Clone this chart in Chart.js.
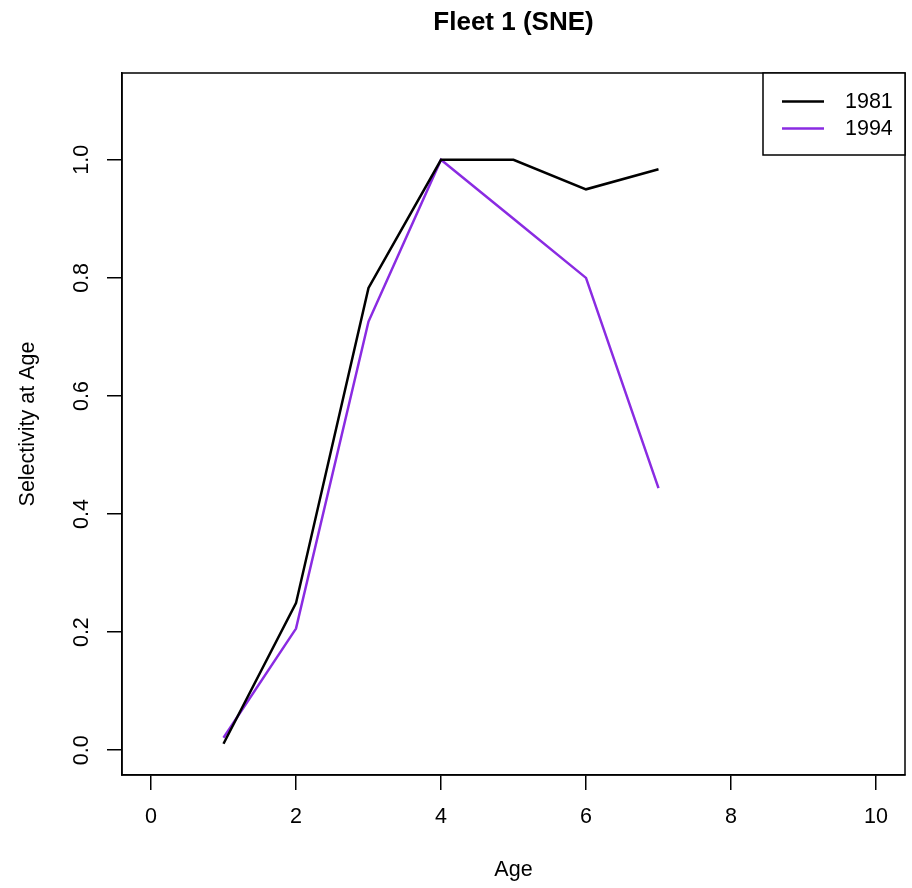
<!DOCTYPE html>
<html>
<head>
<meta charset="utf-8">
<script src="https://cdn.jsdelivr.net/npm/chart.js@4"></script>
<style>
  body { margin: 0; background: #fff; }
  canvas { display: block; }
</style>
</head>
<body>
<canvas id="myChart" width="912" height="888"></canvas>
<script>
const ages = [1, 2, 3, 4, 5, 6, 7];
const sel1981 = [0.011, 0.249, 0.783, 1.0, 1.0, 0.95, 0.984];
const sel1994 = [0.021, 0.206, 0.726, 1.0, 0.9, 0.8, 0.444];
const xTicks = [0, 2, 4, 6, 8, 10];
const yTicks = [0, 0.2, 0.4, 0.6, 0.8, 1.0];
const seriesNames = ["1981", "1994"];
const seriesColors = ["#000000", "#8a2be2"];

const fuente = "'Liberation Sans', Arial, sans-serif";

const toPoints = (vals) => ages.map((a, i) => ({ x: a, y: vals[i] }));

// caja alrededor del area del grafico, titulo y leyenda estilo R
const marcoPlugin = {
  id: "marco",
  afterDraw(chart) {
    const { ctx, chartArea } = chart;
    const { left, right, top, bottom } = chartArea;
    ctx.save();
    ctx.strokeStyle = "#000";
    ctx.lineWidth = 1.5;
    ctx.strokeRect(left, top, right - left, bottom - top);

    // titulo
    ctx.fillStyle = "#000";
    ctx.font = "bold 26px " + fuente;
    ctx.textAlign = "center";
    ctx.textBaseline = "middle";
    ctx.fillText("Fleet 1 (SNE)", (left + right) / 2, 23);

    // leyenda
    const boxL = 763, boxT = top, boxR = right, boxB = 155;
    ctx.fillStyle = "#fff";
    ctx.fillRect(boxL, boxT, boxR - boxL, boxB - boxT);
    ctx.strokeRect(boxL, boxT, boxR - boxL, boxB - boxT);
    const filas = [101.5, 128.5];
    chart.data.datasets.forEach((ds, i) => {
      ctx.strokeStyle = ds.borderColor;
      ctx.lineWidth = 2.5;
      ctx.beginPath();
      ctx.moveTo(782, filas[i]);
      ctx.lineTo(824, filas[i]);
      ctx.stroke();
      ctx.fillStyle = "#000";
      ctx.font = "21.5px " + fuente;
      ctx.textAlign = "left";
      ctx.textBaseline = "middle";
      ctx.fillText(ds.label, 845, filas[i] + 1);
    });
    ctx.restore();
  },
};

const config = {
  type: "line",
  data: {
    datasets: [
      {
        label: seriesNames[0],
        data: toPoints(sel1981),
        borderColor: seriesColors[0],
        borderWidth: 2.5,
        pointRadius: 0,
        tension: 0,
      },
      {
        label: seriesNames[1],
        data: toPoints(sel1994),
        borderColor: seriesColors[1],
        borderWidth: 2.5,
        pointRadius: 0,
        tension: 0,
      },
    ],
  },
  options: {
    responsive: false,
    devicePixelRatio: 1,
    animation: false,
    layout: { padding: { top: 73, right: 7, left: 0, bottom: 0 } },
    plugins: {
      legend: { display: false },
      title: { display: false },
      tooltip: { enabled: false },
    },
    scales: {
      x: {
        type: "linear",
        min: -0.4,
        max: 10.4,
        afterBuildTicks: (scale) => {
          scale.ticks = xTicks.map((v) => ({ value: v }));
        },
        afterFit: (scale) => {
          scale.height = 113;
        },
        grid: {
          drawOnChartArea: false,
          drawTicks: true,
          tickLength: 15,
          color: "#000",
          lineWidth: 1.5,
        },
        border: { display: true, color: "#000", width: 1.5 },
        ticks: {
          autoSkip: false,
          maxRotation: 0,
          padding: 14,
          color: "#000",
          font: { family: fuente, size: 21.5 },
          callback: (v) => String(v),
        },
        title: {
          display: true,
          text: "Age",
          color: "#000",
          font: { family: fuente, size: 21.5 },
          padding: { top: 0, bottom: 5 },
        },
      },
      y: {
        type: "linear",
        min: -0.042,
        max: 1.147,
        afterBuildTicks: (scale) => {
          scale.ticks = yTicks.map((v) => ({ value: v }));
        },
        afterFit: (scale) => {
          scale.width = 122;
        },
        grid: {
          drawOnChartArea: false,
          drawTicks: true,
          tickLength: 15,
          color: "#000",
          lineWidth: 1.5,
        },
        border: { display: true, color: "#000", width: 1.5 },
        ticks: {
          autoSkip: false,
          minRotation: 90,
          maxRotation: 90,
          crossAlign: "center",
          padding: 10,
          color: "#000",
          font: { family: fuente, size: 21.5 },
          callback: (v) => Number(v).toFixed(1),
        },
        title: {
          display: true,
          text: "Selectivity at Age",
          color: "#000",
          font: { family: fuente, size: 21.5 },
          padding: { top: 15, bottom: 0 },
        },
      },
    },
  },
  plugins: [marcoPlugin],
};

const canvas = document.getElementById("myChart");
const myChart = new Chart(canvas, config);
</script>
</body>
</html>
